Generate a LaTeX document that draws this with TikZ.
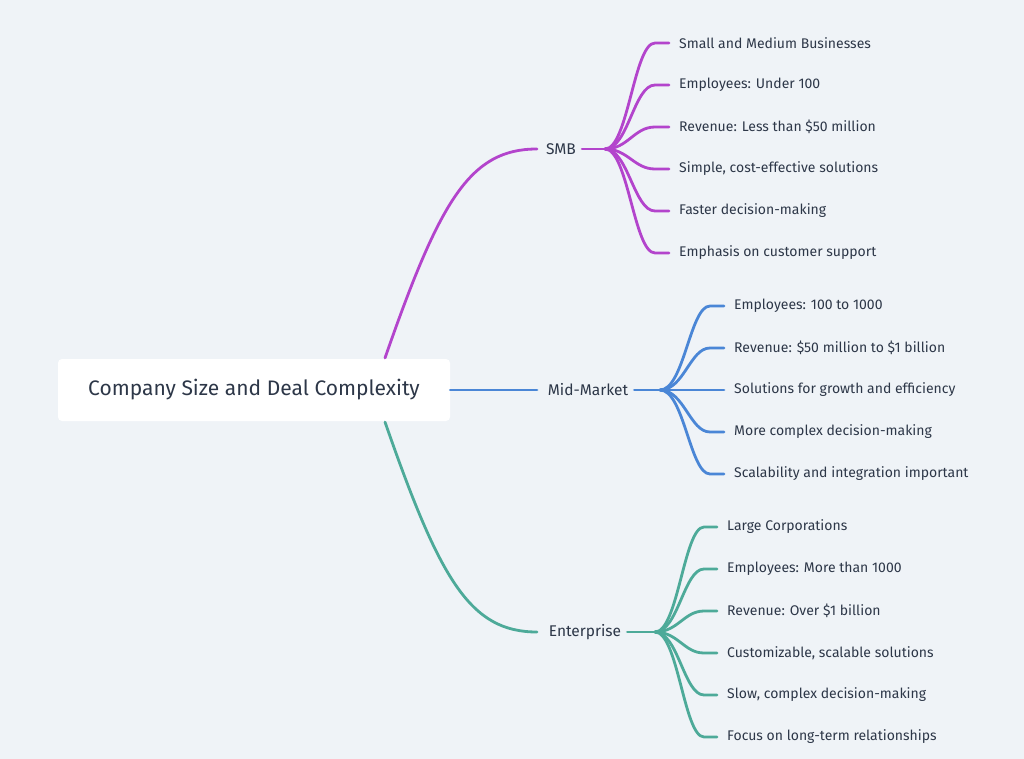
\documentclass[tikz,border=0pt]{standalone}
\usepackage{fontspec}
\setmainfont{Fira Sans}
\usepackage{tikz}

\definecolor{bgcol}{HTML}{EFF3F7}
\definecolor{txtcol}{HTML}{2D3748}
\definecolor{smbcol}{HTML}{B344CC}
\definecolor{midcol}{HTML}{4A86D6}
\definecolor{entcol}{HTML}{4DAA99}

\tikzset{
  leaf/.style={anchor=west, inner sep=0pt, text=txtcol, font=\fontsize{14}{17}\selectfont},
  branch/.style={inner sep=6pt, text=txtcol, font=\fontsize{15.5}{18}\selectfont},
  link/.style={line width=2.8pt, line cap=round}
}

\begin{document}
\begin{tikzpicture}[x=1pt, y=-1pt]
    % Background
    \fill[bgcol] (0,0) rectangle (1024,759);
    \useasboundingbox (0,0) rectangle (1024,759);

    % Root
    \node[fill=white, rounded corners=4pt, minimum width=392pt, minimum height=62pt,
          text=txtcol, font=\fontsize{21}{25}\selectfont] (root) at (254,390) {Company Size and Deal Complexity};

    % Branches
    \node[branch] (smb) at (561,149) {SMB};
    \node[branch] (mid) at (588,390) {Mid-Market};
    \node[branch] (ent) at (585,632) {Enterprise};

    \coordinate (smbin) at (537,149);  \coordinate (smbout) at (605,149);
    \coordinate (midin) at (537,390);  \coordinate (midout) at (660,390);
    \coordinate (entin) at (537,632);  \coordinate (entout) at (655,632);

    \draw[link, smbcol] (385,358) .. controls (440,200) and (470,149) .. (smbin);
    \draw[link, smbcol] (smb.east) -- (smbout);
    \draw[link, midcol] (root.east) -- (midin);
    \draw[link, midcol] (mid.east) -- (midout);
    \draw[link, entcol] (385,422) .. controls (440,580) and (470,632) .. (entin);
    \draw[link, entcol] (ent.east) -- (entout);

    % SMB leaves
    \foreach \t [count=\i] in {Small and Medium Businesses, Employees: Under 100,
        Revenue: Less than \$50 million, {Simple, cost-effective solutions},
        Faster decision-making, Emphasis on customer support} {
      \node[leaf] (smb\i) at (679,{1+42*\i}) {\t};
      \draw[link, smbcol] (smbout) .. controls (628,149) and (634,{1+42*\i}) .. (655,{1+42*\i}) -- (669,{1+42*\i});
    }

    % Mid-Market leaves
    \foreach \t [count=\i] in {Employees: 100 to 1000, Revenue: \$50 million to \$1 billion,
        Solutions for growth and efficiency, More complex decision-making,
        Scalability and integration important} {
      \node[leaf] (mid\i) at (734,{264+42*\i}) {\t};
      \draw[link, midcol] (midout) .. controls (684,390) and (690,{264+42*\i}) .. (710,{264+42*\i}) -- (724,{264+42*\i});
    }

    % Enterprise leaves
    \foreach \t [count=\i] in {Large Corporations, Employees: More than 1000,
        Revenue: Over \$1 billion, {Customizable, scalable solutions},
        {Slow, complex decision-making}, Focus on long-term relationships} {
      \node[leaf] (ent\i) at (727,{485+42*\i}) {\t};
      \draw[link, entcol] (entout) .. controls (678,632) and (684,{485+42*\i}) .. (704,{485+42*\i}) -- (717,{485+42*\i});
    }
\end{tikzpicture}
\end{document}
